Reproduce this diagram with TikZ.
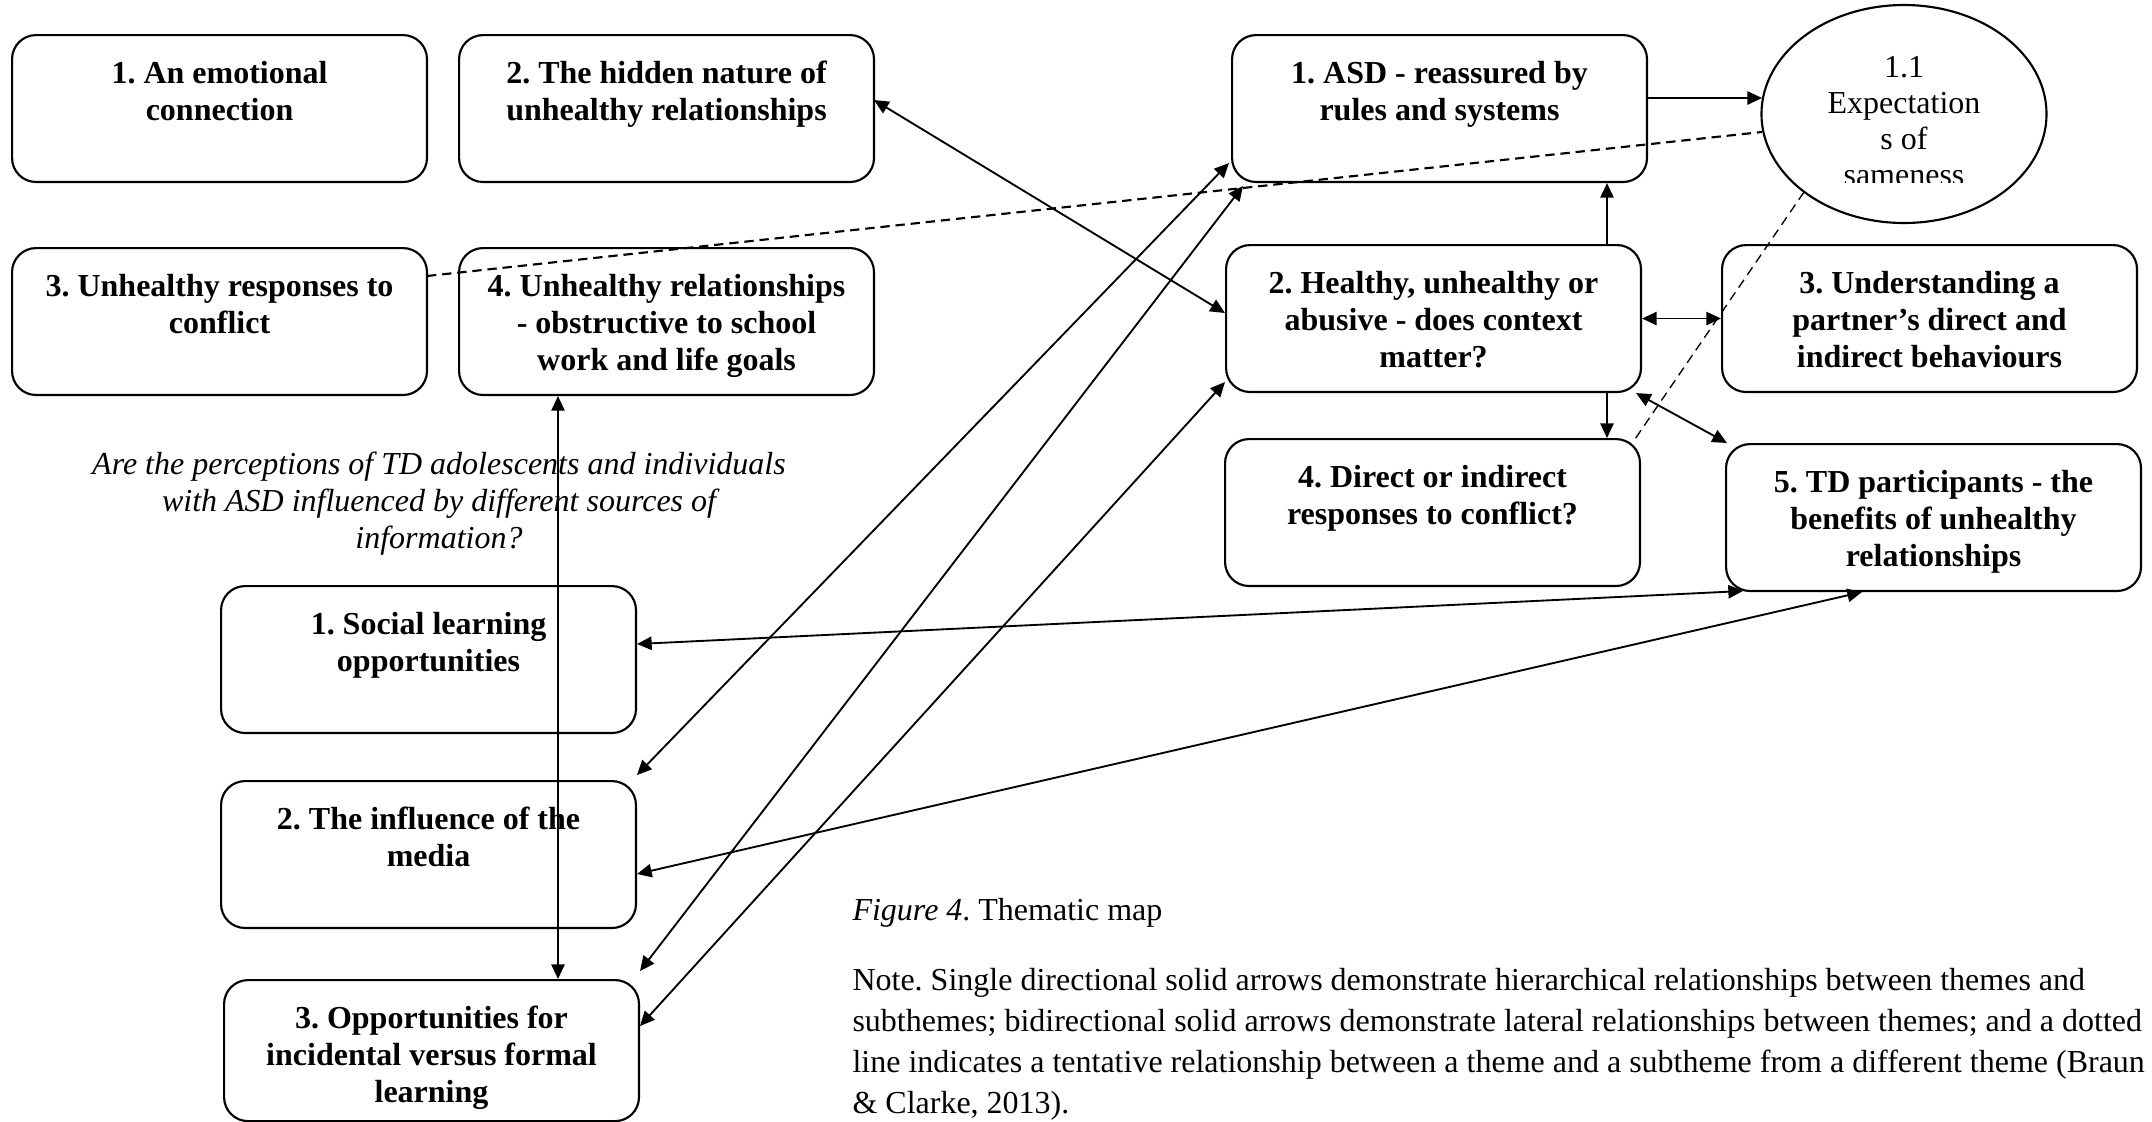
\documentclass[tikz,border=0pt]{standalone}
\usepackage{fontspec}
\setmainfont{Liberation Serif}
\usetikzlibrary{arrows.meta,calc,shapes.geometric}
\frenchspacing
\newcommand\boxtxt[2][55.1pt]{\parbox[c][#1][t]{150pt}{\centering\fontsize{12}{13.9}\selectfont\bfseries\rule{0pt}{18pt}#2}}
\begin{document}
\begin{tikzpicture}[x=0.375pt,y=-0.375pt,
  box/.style={draw, line width=0.8pt, rounded corners=9pt, inner sep=0pt,
    minimum width=155.6pt, minimum height=55.1pt, anchor=north west},
  link/.style={line width=0.7pt, {Triangle[length=5.5pt,width=5pt]}-{Triangle[length=5.5pt,width=5pt]}},
  one/.style={line width=0.7pt, -{Triangle[length=5.5pt,width=5pt]}},
  tent/.style={dash pattern=on 3.5pt off 2.2pt, line width=0.8pt}]
\useasboundingbox (0,0) rectangle (2152,1122);

% left theme
\node[box] (box1) at (11,34) {\boxtxt{1. An emotional\\connection}};
\node[box] (box2) at (458,34) {\boxtxt{2. The hidden nature of\\unhealthy relationships}};
\node[box] (box3) at (11,247) {\boxtxt{3. Unhealthy responses to\\conflict}};
\node[box] (box4) at (458,247) {\boxtxt{4. Unhealthy relationships\\- obstructive to school\\work and life goals}};

% right theme
\node[box] (asd) at (1231,34) {\boxtxt{1. ASD - reassured by\\rules and systems}};
\node[box] (healthy) at (1225,244) {\boxtxt{2. Healthy, unhealthy or\\abusive - does context\\matter?}};
\node[box] (under) at (1721,244) {\boxtxt{3. Understanding a\\partner’s direct and\\indirect behaviours}};
\node[box] (direct) at (1224,438) {\boxtxt{4. Direct or indirect\\responses to conflict?}};
\node[box] (td) at (1725,443) {\boxtxt{5. TD participants - the\\benefits of unhealthy\\relationships}};

% ellipse subtheme
\node[draw, ellipse, line width=0.8pt, minimum width=106.9pt, minimum height=81.75pt, inner sep=0pt] (ell) at (1904,114) {};
\begin{scope}
  \clip (1790,40) rectangle (2020,182);
  \node[inner sep=0pt, anchor=base] (elltxt) at (1904,77)
    {\parbox[t]{100pt}{\centering\fontsize{12}{13.6}\selectfont 1.1\\Expectation\\s of\\sameness}};
\end{scope}

% question
\node[inner sep=0pt, anchor=base] (question) at (439,474)
  {\parbox[t]{300pt}{\centering\itshape\fontsize{12}{13.9}\selectfont Are the perceptions of TD adolescents and individuals\\with ASD influenced by different sources of\\information?}};

% bottom theme
\node[box] (social) at (220,585) {\boxtxt{1. Social learning\\opportunities}};
\node[box] (media) at (220,780) {\boxtxt{2. The influence of the\\media}};
\node[box, minimum height=52.9pt] (opp) at (223,979) {\boxtxt[52.9pt]{3. Opportunities for\\incidental versus formal\\learning}};

% caption and note
\node[inner sep=0pt, anchor=base west] (cap) at (852,920)
  {\fontsize{12}{14}\selectfont\textit{Figure 4}. Thematic map};
\node[inner sep=0pt, anchor=base west] (note) at (852,990)
  {\parbox[t]{520pt}{\raggedright\fontsize{12}{15.4}\selectfont Note. Single directional solid arrows demonstrate hierarchical relationships between themes and\\subthemes; bidirectional solid arrows demonstrate lateral relationships between themes; and a dotted\\line indicates a tentative relationship between a theme and a subtheme from a different theme (Braun\\\& Clarke, 2013).}};

% hierarchical arrows
\draw[one] ($(asd.north west)+(415,64)$) -- ($(ell.center)+(-142,-16)$);
\draw[one] ($(healthy.north west)+(382,0)$) -- ($(asd.south west)+(376,0)$);
\draw[one] ($(healthy.south west)+(382,0)$) -- ($(direct.north west)+(383,0)$);

% lateral arrows
\draw[link] (healthy.east) -- (under.west);
\draw[link] ($(healthy.south east)+(-6,0)$) -- ($(td.north west)+(2,0)$);
\draw[link] ($(box2.north west)+(416,66)$) -- ($(healthy.north west)+(0,69)$);
\draw[link] ($(asd.north west)+(-2,129)$) -- ($(media.north west)+(417,-5)$);
\draw[link] ($(asd.north west)+(12,152)$) -- ($(opp.north west)+(417,-8)$);
\draw[link] ($(healthy.north west)+(0,138)$) -- ($(opp.north west)+(417,47)$);
\draw[link] ($(social.north west)+(417,59)$) -- ($(td.north west)+(18,148)$);
\draw[link] ($(media.north west)+(417,94)$) -- ($(td.north west)+(137,149)$);
\draw[link] ($(box4.south west)+(100,0)$) -- ($(opp.north west)+(335,0)$);

% tentative links
\draw[tent] ($(box3.north west)+(416,29)$) -- ($(ell.center)+(-142,18)$);
\draw[tent, line width=0.5pt] ($(ell.center)+(-100,78)$) -- ($(direct.north west)+(409,4)$);
\end{tikzpicture}
\end{document}
